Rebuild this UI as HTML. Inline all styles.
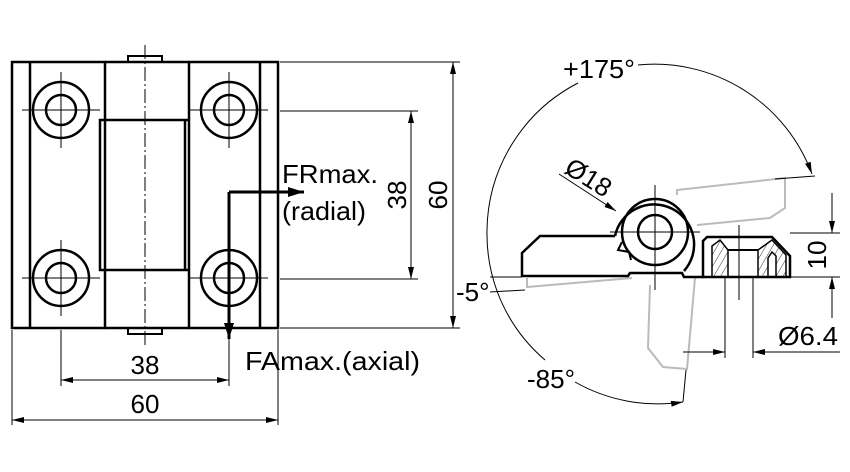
<!DOCTYPE html>
<html><head><meta charset="utf-8"><style>
html,body{margin:0;padding:0;background:#fff}
svg{display:block}
text{font-family:"Liberation Sans","DejaVu Sans",sans-serif;fill:#000}
</style></head><body>
<svg width="850" height="472" viewBox="0 0 850 472" xmlns="http://www.w3.org/2000/svg">
<defs>
<marker id="a" viewBox="0 0 12 6" refX="12" refY="3" markerWidth="12" markerHeight="6" orient="auto" markerUnits="userSpaceOnUse"><path d="M0,0L12,3L0,6z" fill="#000"/></marker>
<marker id="b" viewBox="0 0 16 10" refX="16" refY="5" markerWidth="16" markerHeight="10" orient="auto" markerUnits="userSpaceOnUse"><path d="M0,0L16,5L0,10z" fill="#000"/></marker>
<pattern id="h" width="6" height="6" patternUnits="userSpaceOnUse" patternTransform="rotate(30)"><line x1="0" y1="0" x2="0" y2="6" stroke="#000" stroke-width="0.8"/></pattern>
</defs>
<g fill="none" stroke="#000">
<g stroke-width="2.5">
<rect x="12" y="62" width="93" height="266"/>
<line x1="30" y1="62" x2="30" y2="328"/>
<rect x="189" y="62" width="89" height="266"/>
<line x1="260" y1="62" x2="260" y2="328"/>
<path d="M105,62H189M105,328H189"/>
<path d="M189,120H100V270H189"/>
<line x1="185" y1="120" x2="185" y2="270"/>
<path d="M128,62V56H162V62M128,328V334H162V328" stroke-width="2"/>
<circle cx="61" cy="110" r="28"/><circle cx="61" cy="110" r="15"/>
<circle cx="229" cy="110" r="28"/><circle cx="229" cy="110" r="15"/>
<circle cx="61" cy="278" r="28"/><circle cx="61" cy="278" r="15"/>
<circle cx="229" cy="278" r="28"/><circle cx="229" cy="278" r="15"/>
</g>
<g stroke-width="1">
<line x1="145" y1="45" x2="145" y2="345" stroke-dasharray="14,3,2,3"/>
<path d="M22,110H100M61,72V148M190,110H268M229,72V148M22,278H100M61,240V316M190,278H268"/>
<path d="M61,330V386M229,300V386M12,330V425M278,330V425"/>
<path d="M280,111H418M280,279H418M280,62H460M280,328H460"/>
<line x1="411" y1="194" x2="411" y2="111" marker-end="url(#a)"/>
<line x1="411" y1="194" x2="411" y2="279" marker-end="url(#a)"/>
<line x1="453" y1="194" x2="453" y2="62" marker-end="url(#a)"/>
<line x1="453" y1="194" x2="453" y2="328" marker-end="url(#a)"/>
<line x1="145" y1="380" x2="61" y2="380" marker-end="url(#a)"/>
<line x1="145" y1="380" x2="229" y2="380" marker-end="url(#a)"/>
<line x1="145" y1="420" x2="12" y2="420" marker-end="url(#a)"/>
<line x1="145" y1="420" x2="278" y2="420" marker-end="url(#a)"/>
</g>
<path d="M229,192H304" stroke-width="3" marker-end="url(#b)"/>
<path d="M229,192V339" stroke-width="3" marker-end="url(#b)"/>
<g stroke="#bbb" stroke-width="2">
<path d="M677,195V190L785,178V208L770,218L697,225"/>
<path d="M650,285L648,348L663,367L687,369L695,278"/>
<path d="M527,278V287L632,278"/>
</g>
<g stroke-width="2.5">
<path d="M615,236H540L522,253V276H628L630,273H682L684,277H703"/>
<path d="M615,236A40,40 0 1 1 684,271"/>
<circle cx="655" cy="232" r="33"/>
<circle cx="655" cy="232" r="17"/>
<path d="M622,242L618,250L629,252L631,260" stroke-width="2"/>
<path d="M703,277H790V256L772,237H707L703,241Z"/>
<path d="M712,277V246L720,240L728,250V277Z" fill="url(#h)" stroke-width="1.5"/>
<path d="M758,277V250L772,240L786,255V277H776V256L772,252L768,258V277Z" fill="url(#h)" stroke-width="1.5"/>
<path d="M728,250H758" stroke-width="2"/>
</g>
<g stroke-width="1">
<path d="M655,185V290M610,232H700M739,225V300"/>
<path d="M790,233H840M790,277H840M725,277V358M753,277V358"/>
<line x1="832" y1="193" x2="832" y2="233" marker-end="url(#a)"/>
<line x1="832" y1="318" x2="832" y2="277" marker-end="url(#a)"/>
<line x1="683" y1="352" x2="725" y2="352" marker-end="url(#a)"/>
<line x1="840" y1="352" x2="753" y2="352" marker-end="url(#a)"/>
<line x1="559" y1="174" x2="616" y2="211" marker-end="url(#a)"/>
<path d="M638,65A168,168 0 0 1 812,174" marker-end="url(#a)"/>
<path d="M578,83A168,168 0 0 0 487,230"/>
<path d="M487,230A168,168 0 0 0 497,291"/>
<path d="M497,291A168,168 0 0 0 545,360"/>
<path d="M575,382A168,168 0 0 0 683,402" marker-end="url(#a)"/>
<path d="M775,179L815,176M683,402L686,370"/>
<path d="M490,277H522M490,292L525,290"/>
</g>
</g>
<g font-size="26">
<text x="282" y="183" textLength="96" lengthAdjust="spacingAndGlyphs">FRmax.</text>
<text x="282" y="220" textLength="84" lengthAdjust="spacingAndGlyphs">(radial)</text>
<text x="245" y="370" textLength="175" lengthAdjust="spacingAndGlyphs">FAmax.(axial)</text>
<text x="145" y="374" text-anchor="middle">38</text>
<text x="145" y="413" text-anchor="middle">60</text>
<text transform="translate(406,195) rotate(-90)" text-anchor="middle">38</text>
<text transform="translate(447,195) rotate(-90)" text-anchor="middle">60</text>
<text transform="translate(826,255) rotate(-90)" text-anchor="middle">10</text>
<text x="563" y="78" textLength="72" lengthAdjust="spacingAndGlyphs">+175°</text>
<text x="456" y="301">-5°</text>
<text x="527" y="388">-85°</text>
<text x="778" y="345" textLength="60" lengthAdjust="spacingAndGlyphs">Ø6.4</text>
<text transform="translate(563,172) rotate(32)">Ø18</text>
</g>
</svg>
</body></html>
